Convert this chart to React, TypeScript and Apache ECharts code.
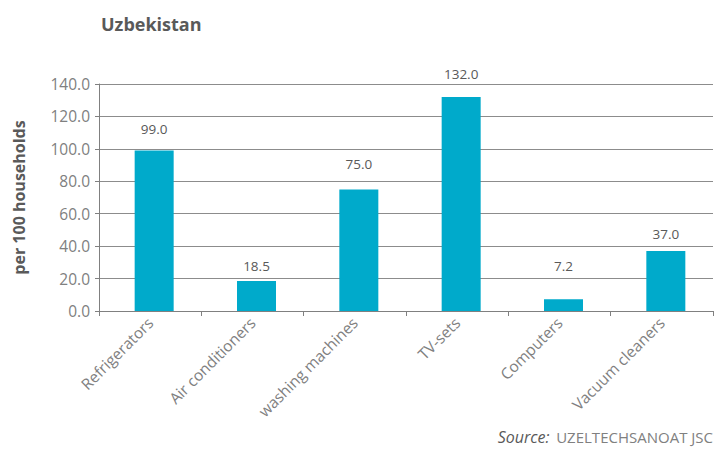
import React, { useEffect, useRef } from "react";
import * as echarts from "echarts";

const categories = ["Refrigerators", "Air conditioners", "washing machines", "TV-sets", "Computers", "Vacuum cleaners"];
const values = [99.0, 18.5, 75.0, 132.0, 7.2, 37.0];
const labelDistances = [14, 8, 18, 16, 26, 10];
const yTicks = { min: 0, max: 140, interval: 20 };
const title = "Uzbekistan";
const yName = "per 100 households";

export default function App() {
  const ref = useRef<HTMLDivElement>(null);
  useEffect(() => {
    if (!ref.current) return;
    const chart = echarts.init(ref.current, null, { renderer: "svg" });
    const font = "'Open Sans', 'Noto Sans', sans-serif";
    chart.setOption({
      animation: false,
      textStyle: { fontFamily: font },
      title: {
        text: title,
        left: 96,
        top: 10,
        textStyle: { fontFamily: font, fontSize: 18, fontWeight: "bold", color: "#595959" },
      },
      grid: { left: 99, right: 2, top: 84, bottom: 138 },
      xAxis: {
        type: "category",
        data: categories,
        boundaryGap: true,
        axisLine: { lineStyle: { color: "#808080", width: 1 } },
        axisTick: { show: true, length: 5, lineStyle: { color: "#808080" } },
        axisLabel: {
          rotate: 45,
          interval: 0,
          margin: 9,
          fontSize: 15.5,
          color: "#808080",
          fontFamily: font,
        },
      },
      yAxis: {
        type: "value",
        min: yTicks.min,
        max: yTicks.max,
        interval: yTicks.interval,
        name: yName,
        nameLocation: "middle",
        nameGap: 72,
        nameTextStyle: { fontFamily: font, fontSize: 16, fontWeight: "bold", color: "#595959" },
        axisLine: { show: true, lineStyle: { color: "#808080", width: 1 } },
        axisTick: { show: true, length: 4, lineStyle: { color: "#808080" } },
        splitLine: { show: true, lineStyle: { color: "#8c8c8c", width: 1 } },
        axisLabel: {
          formatter: (v: number) => v.toFixed(1),
          fontSize: 15.5,
          color: "#808080",
          margin: 9,
          fontFamily: font,
        },
      },
      series: [
        {
          type: "bar",
          name: "spacer",
          data: categories.map(() => null),
          barWidth: 8,
          barGap: 0,
          silent: true,
        },
        {
          type: "bar",
          name: "value",
          data: values.map((v, i) => ({ value: v, label: { distance: labelDistances[i] } })),
          barWidth: 39,
          barGap: 0,
          itemStyle: { color: "#00AACB" },
          label: {
            show: true,
            position: "top",
            formatter: (p: any) => Number(p.value).toFixed(1),
            fontSize: 13.5,
            color: "#595959",
            fontFamily: font,
          },
        },
      ],
      graphic: [
        {
          type: "text",
          right: 2,
          top: 429,
          style: {
            rich: {
              a: { fontStyle: "italic", fontSize: 16, fill: "#595959", fontFamily: font },
              b: { fontSize: 15, fill: "#808080", fontFamily: font },
            },
            text: "{a|Source:}  {b|UZELTECHSANOAT JSC}",
          },
        },
      ],
    });
    return () => chart.dispose();
  }, []);
  return <div ref={ref} style={{ width: 715, height: 449, position: "absolute", left: 0, top: 0 }} />;
}
